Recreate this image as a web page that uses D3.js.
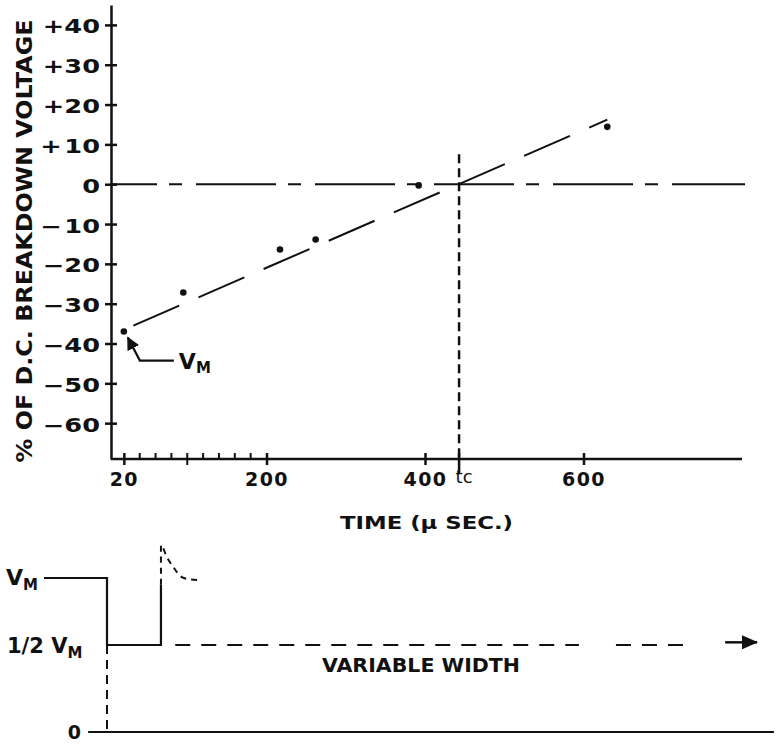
<!DOCTYPE html>
<html>
<head>
<meta charset="utf-8">
<script src="https://cdn.jsdelivr.net/npm/d3@7"></script>
<style>
  body { margin: 0; background: #fff; }
  text { font-family: "DejaVu Sans", sans-serif; fill: #111; }
</style>
</head>
<body>
<div id="chart"></div>
<script>
// measured points, % of D.C. breakdown voltage vs time (micro sec)
var timeUs = [20, 95, 217, 262, 392, 630];
var pctVoltage = [-37, -27.2, -16.4, -13.9, -0.3, 14.4];
// fitted (dashed) line
var fitTime = [32, 630];
var fitPct = [-35.5, 16.2];
var tcTime = 443;
var tcTop = 7.5;

var yTickValues = [40, 30, 20, 10, 0, -10, -20, -30, -40, -50, -60];
var yTickLabels = ["+40", "+30", "+20", "+\u200a10", "0", "\u2212\u200a10", "\u221220", "\u221230", "\u221240", "\u221250", "\u221260"];
var xTickValues = [20, 200, 400, 600];
var xMinorTicks = [40, 60, 80, 100, 120, 140, 160, 180];

// pulse sketch (arbitrary time units, level in fraction of V_M)
var pulseT = [-9.7, 0, 0, 8.3, 8.3];
var pulseV = [1, 1, 0.5, 0.5, 0.95];
var overshootT = [8.3, 8.3, 9.2, 10.2, 11.5, 12.8, 14.3];
var overshootV = [0.95, 1.246, 1.157, 1.082, 1.007, 0.99, 0.985];
var halfDashT = [[10.5, 72.6], [78.3, 89.2]];
var arrowT = [95.1, 100];
var baseT = [-2.9, 102.6];
var pulseLevels = [1, 0.5, 0];

var width = 777, height = 749;

var svg = d3.select("#chart")
            .append("svg")
              .attr("width", width)
              .attr("height", height);

var defs = svg.append("defs");
defs.append("marker")
    .attr("id", "head")
    .attr("viewBox", "0 0 10 10")
    .attr("refX", 9).attr("refY", 5)
    .attr("markerWidth", 6).attr("markerHeight", 6)
    .attr("markerUnits", "strokeWidth")
    .attr("orient", "auto")
  .append("path")
    .attr("d", "M0,0L10,5L0,10z")
    .attr("fill", "#111");
defs.append("marker")
    .attr("id", "bighead")
    .attr("viewBox", "0 0 16 14")
    .attr("refX", 15).attr("refY", 7)
    .attr("markerWidth", 16).attr("markerHeight", 14)
    .attr("markerUnits", "userSpaceOnUse")
    .attr("orient", "auto")
  .append("path")
    .attr("d", "M0,0L16,7L0,14z")
    .attr("fill", "#111");

var x = d3.scaleLinear().domain([0, 800]).range([108, 742]);
var y = d3.scaleLinear().domain([-69, 45]).range([459, 5]);

// y axis
var gy = svg.append("g")
    .attr("transform", "translate(111,0)")
    .call(d3.axisLeft(y)
        .tickValues(yTickValues)
        .tickSize(6)
        .tickSizeOuter(0)
        .tickFormat(function(d, i) { return yTickLabels[i]; }));
gy.attr("font-family", null).attr("font-size", 19).attr("font-weight", "bold");
gy.selectAll("path, line").attr("stroke", "#111").attr("stroke-width", 2.5);
gy.selectAll(".tick line").attr("x1", 6).attr("x2", -6);
gy.selectAll(".tick text")
    .attr("x", -8.15)
    .attr("dy", "0.42em")
    .attr("transform", "scale(1.35,1)")
    .attr("fill", "#111");

// x axis
var gx = svg.append("g")
    .attr("transform", "translate(0,459)")
    .call(d3.axisBottom(x)
        .tickValues(xTickValues)
        .tickSize(6)
        .tickSizeOuter(0));
gx.attr("font-family", null).attr("font-size", 19).attr("font-weight", "bold");
gx.select(".domain").attr("d", "M111,0H" + x.range()[1]);
gx.selectAll("path, line").attr("stroke", "#111").attr("stroke-width", 2.5);
gx.selectAll(".tick line").attr("y1", -6).attr("y2", 6);
gx.selectAll(".tick text")
    .attr("y", 14)
    .attr("letter-spacing", 1.5)
    .attr("fill", "#111");

gx.selectAll(".minor")
    .data(xMinorTicks)
    .enter().append("line")
    .attr("class", "minor")
    .attr("x1", d => x(d)).attr("x2", d => x(d))
    .attr("y1", -6)
    .attr("y2", d => d === 100 ? 6 : 0)
    .attr("stroke", "#111")
    .attr("stroke-width", 2);

// tc marker
gx.append("line")
    .attr("x1", x(tcTime)).attr("x2", x(tcTime))
    .attr("y1", -6).attr("y2", 14)
    .attr("stroke", "#111").attr("stroke-width", 2.5);
gx.append("text")
    .attr("x", x(tcTime) + 5)
    .attr("y", 24)
    .attr("font-size", 18)
    .attr("font-weight", "normal")
    .attr("fill", "#111")
    .text("tc");

svg.append("line")
    .attr("x1", x(tcTime)).attr("x2", x(tcTime))
    .attr("y1", y(tcTop)).attr("y2", y(y.domain()[0]))
    .attr("stroke", "#111")
    .attr("stroke-width", 2.5)
    .attr("stroke-dasharray", "9,5");

// zero reference line (long dash - short dash)
svg.append("line")
    .attr("x1", 111).attr("x2", x(x.domain()[1]) + 3)
    .attr("y1", y(0)).attr("y2", y(0))
    .attr("stroke", "#111")
    .attr("stroke-width", 2)
    .attr("stroke-dasharray", "80,12,13,14")
    .attr("stroke-dashoffset", 34);

// fitted line
svg.append("path")
    .datum(fitTime.map((t, i) => [t, fitPct[i]]))
    .attr("d", d3.line().x(d => x(d[0])).y(d => y(d[1])))
    .attr("fill", "none")
    .attr("stroke", "#111")
    .attr("stroke-width", 2)
    .attr("stroke-dasharray", "50,21");

// points
svg.selectAll(".pt")
    .data(timeUs)
    .enter().append("circle")
    .attr("class", "pt")
    .attr("cx", d => x(d))
    .attr("cy", (d, i) => y(pctVoltage[i]))
    .attr("r", 3.3)
    .attr("fill", "#111");

// V_M callout on first point
var p0x = x(timeUs[0]), p0y = y(pctVoltage[0]);
svg.append("path")
    .attr("d", "M" + (p0x + 50) + "," + (p0y + 29) +
               "H" + (p0x + 16) +
               "L" + (p0x + 4) + "," + (p0y + 6))
    .attr("fill", "none")
    .attr("stroke", "#111")
    .attr("stroke-width", 2.2)
    .attr("marker-end", "url(#head)");
var vm1 = svg.append("text")
    .attr("x", p0x + 55)
    .attr("y", p0y + 37)
    .attr("font-size", 22)
    .attr("font-weight", "bold");
vm1.append("tspan").text("V");
vm1.append("tspan").attr("font-size", 15).attr("dy", 4).text("M");

// axis titles
svg.append("text")
    .attr("transform", "translate(32,241) rotate(-90)")
    .attr("text-anchor", "middle")
    .attr("font-size", 21)
    .attr("font-weight", "bold")
    .attr("textLength", 443)
    .attr("lengthAdjust", "spacingAndGlyphs")
    .text("% OF D.C. BREAKDOWN VOLTAGE");

svg.append("text")
    .attr("x", 340)
    .attr("y", 529)
    .attr("font-size", 18)
    .attr("font-weight", "bold")
    .attr("textLength", 173)
    .attr("lengthAdjust", "spacingAndGlyphs")
    .text("TIME (\u00b5 SEC.)");

// ---- pulse sketch ----
var xw = d3.scaleLinear().domain([0, 100]).range([107, 757]);
var yw = d3.scaleLinear().domain([0, 0.5, 1]).range([732, 645, 578]);
var lw = d3.line().x(d => xw(d[0])).y(d => yw(d[1]));

svg.append("path")
    .datum(pulseT.map((t, i) => [t, pulseV[i]]))
    .attr("d", lw)
    .attr("fill", "none")
    .attr("stroke", "#111")
    .attr("stroke-width", 2.2);

svg.append("path")
    .datum(overshootT.map((t, i) => [t, overshootV[i]]))
    .attr("d", lw.curve(d3.curveMonotoneX))
    .attr("fill", "none")
    .attr("stroke", "#111")
    .attr("stroke-width", 2)
    .attr("stroke-dasharray", "6,5");
lw.curve(d3.curveLinear);

svg.append("path")
    .datum([[0, 0.5], [0, 0]])
    .attr("d", lw)
    .attr("stroke", "#111")
    .attr("stroke-width", 2)
    .attr("stroke-dasharray", "9,6");

svg.selectAll(".half")
    .data(halfDashT)
    .enter().append("path")
    .attr("class", "half")
    .attr("d", d => lw([[d[0], 0.5], [d[1], 0.5]]))
    .attr("stroke", "#111")
    .attr("stroke-width", 2)
    .attr("stroke-dasharray", "15,11");

svg.append("path")
    .attr("d", lw([[arrowT[0], 0.52], [arrowT[1], 0.52]]))
    .attr("stroke", "#111")
    .attr("stroke-width", 2.5)
    .attr("marker-end", "url(#bighead)");

svg.append("path")
    .attr("d", lw([[baseT[0], 0], [baseT[1], 0]]))
    .attr("stroke", "#111")
    .attr("stroke-width", 2);

// level labels
var lab = svg.append("g").attr("font-weight", "bold");
var t1 = lab.append("text").attr("x", 6).attr("y", yw(pulseLevels[0]) + 7).attr("font-size", 22);
t1.append("tspan").text("V");
t1.append("tspan").attr("font-size", 15).attr("dy", 5).text("M");
var t2 = lab.append("text").attr("x", 7).attr("y", yw(pulseLevels[1]) + 8).attr("font-size", 21);
t2.append("tspan").text("1/2 V");
t2.append("tspan").attr("font-size", 15).attr("dy", 5).text("M");
lab.append("text")
    .attr("x", 81)
    .attr("y", yw(pulseLevels[2]) + 7)
    .attr("text-anchor", "end")
    .attr("font-size", 19)
    .text("0");

svg.append("text")
    .attr("x", 322)
    .attr("y", 672)
    .attr("font-size", 20)
    .attr("font-weight", "bold")
    .attr("textLength", 198)
    .attr("lengthAdjust", "spacingAndGlyphs")
    .text("VARIABLE WIDTH");
</script>
</body>
</html>
